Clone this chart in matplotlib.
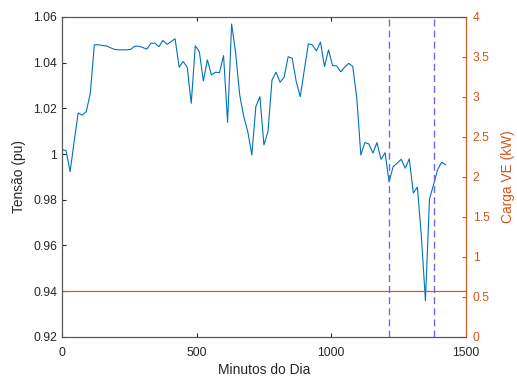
import numpy as np
import matplotlib.pyplot as plt

plt.rcParams['font.family'] = ['Liberation Sans', 'DejaVu Sans']

# tensao a cada 15 minutos (0 .. 1425)
minutos = np.arange(0, 1440, 15)
tensao = [1.0020, 1.0015, 0.9923, 1.0055, 1.0180, 1.0170, 1.0186, 1.0266,
          1.0478, 1.0478, 1.0475, 1.0473, 1.0465, 1.0458, 1.0456, 1.0456,
          1.0456, 1.0458, 1.0472, 1.0472, 1.0466, 1.0459, 1.0485, 1.0485,
          1.0470, 1.0497, 1.0480, 1.0492, 1.0504, 1.0380, 1.0405, 1.0380,
          1.0222, 1.0474, 1.0448, 1.0320, 1.0412, 1.0346, 1.0358, 1.0356,
          1.0431, 1.0139, 1.0569, 1.0441, 1.0259, 1.0164, 1.0098, 0.9996,
          1.0208, 1.0251, 1.0040, 1.0098, 1.0324, 1.0358, 1.0314, 1.0336,
          1.0426, 1.0419, 1.0317, 1.0251, 1.0368, 1.0482, 1.0478, 1.0451,
          1.0490, 1.0383, 1.0456, 1.0387, 1.0386, 1.0360, 1.0380, 1.0397,
          1.0383, 1.0244, 0.9996, 1.0050, 1.0044, 1.0004, 1.0050, 0.9977,
          1.0006, 0.9878, 0.9945, 0.9960, 0.9977, 0.9938, 0.9979, 0.9829,
          0.9855, 0.9639, 0.9358, 0.9803, 0.9865, 0.9931, 0.9964, 0.9953]

limite = 0.94
janela = [1215, 1380]  # inicio e fim da recarga

fig = plt.figure(figsize=(5.17, 3.76), dpi=100)
ax = fig.add_axes([0.12, 0.104, 0.781, 0.851])
ax2 = ax.twinx()

ax.plot(minutos, tensao, color='#0072BD', lw=0.8)
ax.axhline(limite, color='#E0502A', lw=0.9)
for t in janela:
    ax.axvline(t, color='#7068E8', lw=1.0, ls=(0, (5, 3)))

ax.set_xlim(0, 1500)
ax.set_ylim(0.92, 1.06)
ax.set_xticks([0, 500, 1000, 1500])
ax.set_yticks(np.arange(0.92, 1.0601, 0.02))
ax.set_yticklabels(['0.92', '0.94', '0.96', '0.98', '1', '1.02', '1.04', '1.06'])
ax2.set_ylim(0, 4)
ax2.set_yticks(np.arange(0, 4.01, 0.5))
ax2.set_yticklabels(['0', '0.5', '1', '1.5', '2', '2.5', '3', '3.5', '4'])

grey = '#262626'
ax.tick_params(direction='in', length=3, labelsize=8.8, colors=grey, top=True)
ax.tick_params(axis='x', pad=7)
ax2.tick_params(direction='in', length=3, labelsize=8.8, colors='#D95319', pad=5)
for s in ['left', 'bottom', 'top']:
    ax.spines[s].set_color('#555555')
    ax2.spines[s].set_color('#555555')
ax2.spines['right'].set_color('#D95319')
ax.spines['right'].set_visible(False)

ax.set_xlabel('Minutos do Dia', fontsize=9.9, color=grey, labelpad=3)
ax.set_ylabel('Tensão (pu)', fontsize=9.9, color=grey, labelpad=5)
ax2.set_ylabel('Carga VE (kW)', fontsize=9.9, color='#D95319', labelpad=8)

fig.savefig('out.png')
